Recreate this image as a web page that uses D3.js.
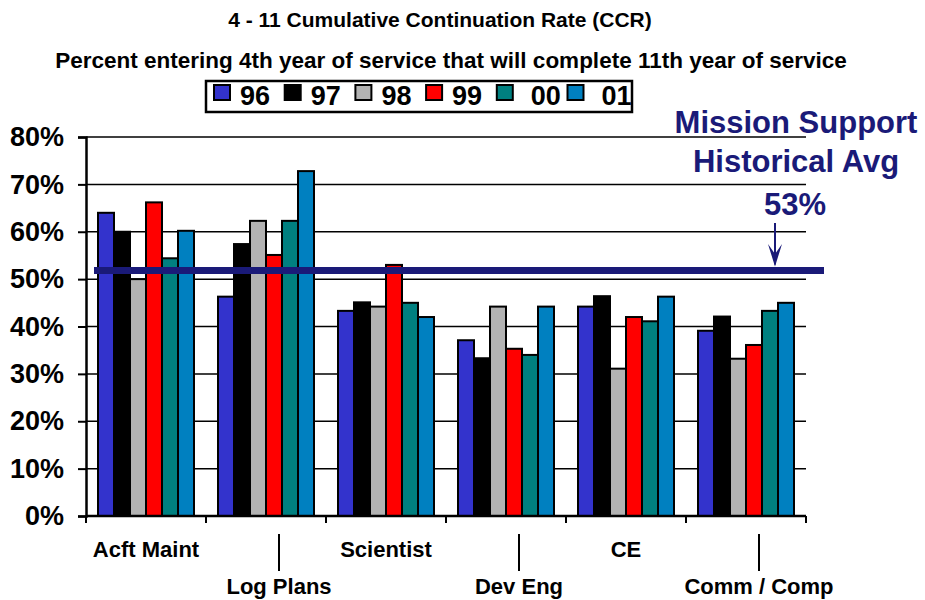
<!DOCTYPE html>
<html>
<head>
<meta charset="utf-8">
<script src="https://d3js.org/d3.v7.min.js"></script>
<style>
  body { margin: 0; background: #fff; }
  text { font-family: "Liberation Sans", Arial, sans-serif; font-weight: bold; }
</style>
</head>
<body>
<div id="my_dataviz"></div>
<script>
// data
var categories = ["Acft Maint", "Log Plans", "Scientist", "Dev Eng", "CE", "Comm / Comp"];
var years = ["96", "97", "98", "99", "00", "01"];
var v96 = [64.0, 46.3, 43.3, 37.1, 44.2, 39.1];
var v97 = [60.0, 57.4, 45.1, 33.3, 46.4, 42.1];
var v98 = [50.0, 62.3, 44.2, 44.2, 31.1, 33.2];
var v99 = [66.2, 55.1, 53.0, 35.3, 42.0, 36.1];
var v00 = [54.4, 62.3, 45.0, 34.0, 41.1, 43.3];
var v01 = [60.2, 72.8, 42.0, 44.2, 46.3, 45.0];
var yTicks = [0, 10, 20, 30, 40, 50, 60, 70, 80];
var histAvg = 51.8;           // where the line is drawn
var histLabel = "53%";        // what the label says
var colors = ["#3333cc", "#000000", "#b2b2b2", "#ff0000", "#008080", "#0080c0"];

var series = [v96, v97, v98, v99, v00, v01];
var width = 925, height = 600;
var navy = "#1a1a78";

var svg = d3.select("#my_dataviz")
  .append("svg")
    .attr("width", width)
    .attr("height", height);

// scales
var x0 = d3.scaleBand()
  .domain(categories)
  .range([86, 806])
  .padding(0);

var x1 = d3.scaleBand()
  .domain(years)
  .range([0, x0.bandwidth()])
  .paddingInner(0)
  .paddingOuter(0.75);

var y = d3.scaleLinear()
  .domain([0, 80])
  .range([516, 137]);

var color = d3.scaleOrdinal().domain(years).range(colors);

// titles
svg.append("text")
  .attr("x", 440).attr("y", 27)
  .attr("text-anchor", "middle")
  .style("font-size", "21px")
  .text("4 - 11 Cumulative Continuation Rate (CCR)");

svg.append("text")
  .attr("x", 451).attr("y", 68)
  .attr("text-anchor", "middle")
  .style("font-size", "22.5px")
  .text("Percent entering 4th year of service that will complete 11th year of service");

// gridlines
svg.append("g")
  .selectAll("line")
  .data(yTicks.filter(function(d){ return d > 0 }))
  .enter()
  .append("line")
    .attr("x1", 86).attr("x2", 806)
    .attr("y1", function(d){ return y(d) })
    .attr("y2", function(d){ return y(d) })
    .attr("stroke", "#000")
    .attr("stroke-width", 1.5);

// bars
var rows = categories.map(function(c, i) {
  return { cat: c, vals: years.map(function(yr, j){ return { year: yr, value: series[j][i] } }) };
});

svg.append("g")
  .selectAll("g")
  .data(rows)
  .enter()
  .append("g")
    .attr("transform", function(d){ return "translate(" + x0(d.cat) + ",0)" })
  .selectAll("rect")
  .data(function(d){ return d.vals })
  .enter()
  .append("rect")
    .attr("x", function(d){ return x1(d.year) })
    .attr("y", function(d){ return y(d.value) })
    .attr("width", x1.bandwidth())
    .attr("height", function(d){ return y(0) - y(d.value) })
    .attr("fill", function(d){ return color(d.year) })
    .attr("stroke", "#000")
    .attr("stroke-width", 2);

// y axis
var yAxis = svg.append("g")
  .attr("transform", "translate(86,0)")
  .call(d3.axisLeft(y).tickValues(yTicks).tickSize(8).tickPadding(14)
        .tickFormat(function(d){ return d + "%" }));
yAxis.select(".domain").attr("stroke-width", 2.5);
yAxis.selectAll(".tick line").attr("stroke-width", 2);
yAxis.selectAll("text")
  .style("font-size", "27px")
  .style("font-family", "'Liberation Sans', Arial, sans-serif")
  .style("font-weight", "bold")
  .attr("fill", "#000");

// x axis with ticks between categories
var xAxis = svg.append("g")
  .attr("transform", "translate(0," + y(0) + ")");
xAxis.append("line")
  .attr("x1", 86).attr("x2", 806)
  .attr("stroke", "#000").attr("stroke-width", 2.5);
xAxis.selectAll(".sep")
  .data(categories.concat(["end"]))
  .enter()
  .append("line")
    .attr("x1", function(d, i){ return 86 + i * x0.step() })
    .attr("x2", function(d, i){ return 86 + i * x0.step() })
    .attr("y1", 0).attr("y2", 7)
    .attr("stroke", "#000").attr("stroke-width", 2);

// category labels, staggered on two rows
var labelG = svg.append("g");
labelG.selectAll("text")
  .data(categories)
  .enter()
  .append("text")
    .attr("x", function(d, i){ return x0(d) + x0.bandwidth() / 2 + (i % 2 ? 13 : 0) })
    .attr("y", function(d, i){ return i % 2 ? 594 : 557 })
    .attr("text-anchor", "middle")
    .style("font-size", "22px")
    .text(function(d){ return d });
labelG.selectAll("line")
  .data(categories.filter(function(d, i){ return i % 2 }))
  .enter()
  .append("line")
    .attr("x1", function(d){ return x0(d) + x0.bandwidth() / 2 + 13 })
    .attr("x2", function(d){ return x0(d) + x0.bandwidth() / 2 + 13 })
    .attr("y1", 534).attr("y2", 571)
    .attr("stroke", "#000").attr("stroke-width", 2);

// historical average line
svg.append("line")
  .attr("x1", 94).attr("x2", 824)
  .attr("y1", y(histAvg)).attr("y2", y(histAvg))
  .attr("stroke", navy)
  .attr("stroke-width", 7);

// annotation
var ann = svg.append("g").attr("fill", navy);
ann.append("text").attr("x", 796).attr("y", 133).attr("text-anchor", "middle")
  .style("font-size", "31px").text("Mission Support");
ann.append("text").attr("x", 796).attr("y", 172).attr("text-anchor", "middle")
  .style("font-size", "31px").text("Historical Avg");
ann.append("text").attr("x", 795).attr("y", 215).attr("text-anchor", "middle")
  .style("font-size", "31px").text(histLabel);

// arrow down to the line
var ax = 775;
svg.append("line")
  .attr("x1", ax).attr("x2", ax)
  .attr("y1", 223).attr("y2", y(histAvg) - 6)
  .attr("stroke", navy).attr("stroke-width", 2);
svg.append("path")
  .attr("d", "M" + (ax - 7) + ",244 L" + ax + "," + (y(histAvg) - 4) + " L" + (ax + 7) + ",244 L" + ax + ",254 Z")
  .attr("fill", navy);

// legend
var legend = svg.append("g");
legend.append("rect")
  .attr("x", 206).attr("y", 81)
  .attr("width", 426).attr("height", 31)
  .attr("fill", "#fff")
  .attr("stroke", "#000")
  .attr("stroke-width", 2.5);

var item = legend.selectAll(".item")
  .data(years)
  .enter()
  .append("g")
    .attr("transform", function(d, i){ return "translate(" + (214 + i * 70.7) + ",0)" });
item.append("rect")
  .attr("x", 0).attr("y", 85)
  .attr("width", 16).attr("height", 15)
  .attr("fill", function(d){ return color(d) })
  .attr("stroke", "#000")
  .attr("stroke-width", 2);
item.append("text")
  .attr("x", function(d, i){ return i < 4 ? 26 : 34 })
  .attr("y", 105)
  .style("font-size", "27px")
  .text(function(d){ return d });
</script>
</body>
</html>
